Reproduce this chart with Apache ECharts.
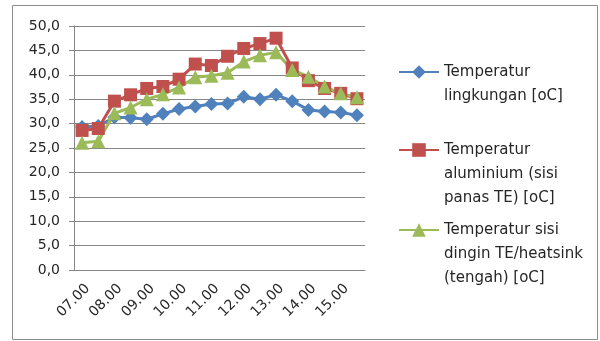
<!DOCTYPE html>
<html>
<head>
<meta charset="utf-8">
<script src="https://cdn.jsdelivr.net/npm/echarts@6/dist/echarts.min.js"></script>
<style>html,body{margin:0;padding:0;background:#fff;}#c{width:600px;height:341px;}</style>
</head>
<body>
<div id="c"></div>
<script>
var categories = ['07.00','07.30','08.00','08.30','09.00','09.30','10.00','10.30','11.00','11.30','12.00','12.30','13.00','13.30','14.00','14.30','15.00','15.30'];
var lingkungan = [29.3,29.5,31.3,31.2,30.9,32.0,33.0,33.5,34.0,34.1,35.5,35.0,35.9,34.6,32.8,32.5,32.3,31.7];
var aluminium = [28.6,29.0,34.6,35.9,37.2,37.6,39.1,42.2,41.9,43.8,45.4,46.4,47.5,41.4,38.8,37.2,36.2,35.1];
var dingin = [26.1,26.4,32.1,33.3,35.0,36.0,37.4,39.5,39.8,40.4,42.7,44.0,44.6,41.0,39.6,37.6,36.2,35.4];
var seriesNames = ['Temperatur\nlingkungan [oC]','Temperatur\naluminium (sisi\npanas TE) [oC]','Temperatur sisi\ndingin TE/heatsink\n(tengah) [oC]'];
var yMin = 0, yMax = 50, yStep = 5;

var FONT = 'DejaVu Sans';
var chart = echarts.init(document.getElementById('c'));
function mkSeries(name, data, color, symbol, size){
  return {name:name,type:'line',data:data,symbol:symbol,symbolSize:size,showAllSymbol:true,
    lineStyle:{color:color,width:3},itemStyle:{color:color},emphasis:{disabled:true},animation:false};
}
function mkLegend(i, top, lines){
  var pre = new Array(lines).join('\n');
  return {orient:'vertical',left:398,top:top,padding:0,itemWidth:40,itemHeight:17,itemGap:0,
    data:[seriesNames[i]],
    formatter:function(name){return pre + name;},
    textStyle:{fontFamily:FONT,fontSize:15,color:'#262626',lineHeight:24},selectedMode:false};
}
chart.setOption({
  animation:false,
  grid:{left:74,right:235,top:26,bottom:71},
  graphic:[{type:'rect',shape:{x:12.5,y:5.5,width:585,height:334},style:{fill:'none',stroke:'#8c8c8c',lineWidth:1},silent:true}],
  legend:[mkLegend(0,36,2),mkLegend(1,90,3),mkLegend(2,170,3)],
  xAxis:{type:'category',data:categories,boundaryGap:true,
    axisLine:{lineStyle:{color:'#868686'}},
    axisTick:{interval:0,length:5,lineStyle:{color:'#868686'}},
    axisLabel:{interval:1,rotate:45,margin:22,padding:[0,-8,0,0],fontFamily:FONT,fontSize:14,color:'#262626'}},
  yAxis:{type:'value',min:yMin,max:yMax,interval:yStep,
    axisLine:{show:true,lineStyle:{color:'#868686'}},
    axisTick:{show:true,length:5,lineStyle:{color:'#868686'}},
    splitLine:{lineStyle:{color:'#868686'}},
    axisLabel:{margin:14,fontFamily:FONT,fontSize:14,color:'#262626',formatter:function(v){return v.toFixed(1).replace('.',',');}}},
  series:[
    mkSeries(seriesNames[0],lingkungan,'#4F81BD','diamond',14),
    mkSeries(seriesNames[1],aluminium,'#C0504D','rect',13),
    mkSeries(seriesNames[2],dingin,'#9BBB59','triangle',14)
  ]
});
</script>
</body>
</html>
